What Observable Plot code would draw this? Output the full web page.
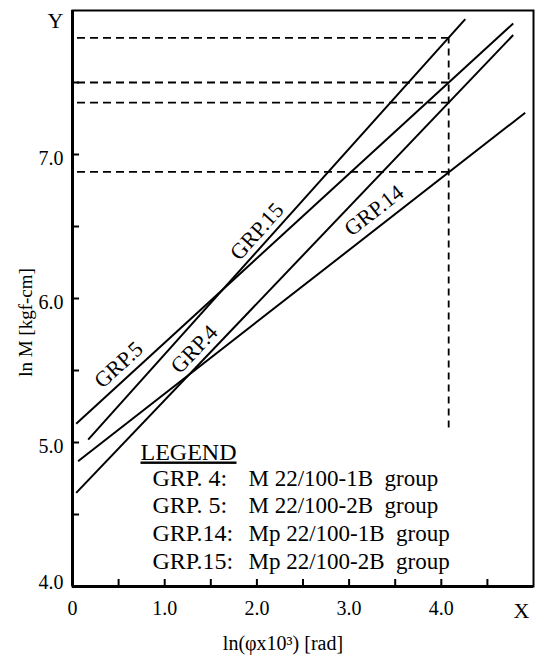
<!DOCTYPE html>
<html>
<head>
<meta charset="utf-8">
<script src="https://cdn.jsdelivr.net/npm/d3@7"></script>
<script src="https://cdn.jsdelivr.net/npm/@observablehq/plot@0.6"></script>
<style>
  html, body { margin: 0; padding: 0; background: #fff; }
  #chart svg { display: block; }
</style>
</head>
<body>
<div id="chart"></div>
<script>
// Fitted ln M – ln(φ×10³) lines, one per test group (start and end of each line)
const groups = ["GRP.5", "GRP.15", "GRP.4", "GRP.14"];
const xStart = [0.04, 0.17, 0.04, 0.06];
const xEnd   = [4.78, 4.26, 4.78, 4.91];
const yStart = [5.13, 5.02, 4.65, 4.87];
const yEnd   = [7.91, 7.94, 7.83, 7.29];

// Readings taken at ln(φ×10³) = 4.08
const readX = 4.08;
const readY = [7.81, 7.50, 7.36, 6.88];
const readFloor = 5.10;

// Axis ticks
const xTicks = [0, 1, 2, 3, 4];
const xTickLabels = ["0", "1.0", "2.0", "3.0", "4.0"];
const yTicks = [4, 5, 6, 7];
const yTickLabels = ["4.0", "5.0", "6.0", "7.0"];
const xMinor = [0.5, 1, 1.5, 2, 2.5, 3, 3.5, 4, 4.5];
const yMinor = [4.5, 5, 5.5, 6, 6.5, 7, 7.5];

// Legend
const legendTitle = "LEGEND";
const legendKeys = ["GRP. 4:", "GRP. 5:", "GRP.14:", "GRP.15:"];
const legendNames = ["M 22/100-1B  group", "M 22/100-2B  group", "Mp 22/100-1B  group", "Mp 22/100-2B  group"];

// Where along each line its name is written
const labelAt = [0.50, 2.00, 1.32, 3.27];

const W = 535, H = 656;
const mL = 72, mR = 2, mT = 10, mB = 70;
const pxPerX = (W - mL - mR) / 5;
const pxPerY = (H - mT - mB) / 4;

const serif = "'Liberation Serif', 'Times New Roman', serif";

const lineAt = (i, x) => yStart[i] + (yEnd[i] - yStart[i]) * (x - xStart[i]) / (xEnd[i] - xStart[i]);
const angleOf = (i) => -Math.atan(((yEnd[i] - yStart[i]) / (xEnd[i] - xStart[i])) * pxPerY / pxPerX) * 180 / Math.PI;

const idx = groups.map((_, i) => i);
const yLabelText = (d) => yTickLabels[yTicks.indexOf(d)];

const legendMarks = [
  Plot.text([legendTitle], {frameAnchor: "bottom-left", dx: 68, dy: -127, lineAnchor: "bottom", textAnchor: "start", fontSize: 24, fill: "black"}),
  ...legendKeys.map((k, i) =>
    Plot.text([k], {frameAnchor: "bottom-left", dx: 80, dy: -101 + 27.8 * i, lineAnchor: "bottom", textAnchor: "start", fontSize: 24, fill: "black"})),
  ...legendNames.map((n, i) =>
    Plot.text([n], {frameAnchor: "bottom-left", dx: 176, dy: -101 + 27.8 * i, lineAnchor: "bottom", textAnchor: "start", fontSize: 23, fill: "black"}))
];

const labelMarks = idx.map((i) =>
  Plot.text([groups[i]], {
    x: labelAt[i],
    y: lineAt(i, labelAt[i]),
    dy: -20,
    rotate: angleOf(i),
    textAnchor: "middle",
    lineAnchor: "middle",
    fontSize: 22,
    fill: "black"
  })
);

const chart = Plot.plot({
  width: W,
  height: H,
  marginLeft: mL,
  marginRight: mR,
  marginTop: mT,
  marginBottom: mB,
  style: {fontFamily: serif, fontSize: "20px", background: "white", color: "black"},
  x: {domain: [0, 5]},
  y: {domain: [4, 8]},
  marks: [
    // dashed reading guides
    Plot.ruleY(readY, {y: (d) => d, x1: 0, x2: readX, insetLeft: 5, stroke: "black", strokeWidth: 1.8, strokeDasharray: "8,5"}),
    Plot.ruleX([readX], {x: (d) => d, y1: readFloor, y2: d3.max(readY), stroke: "black", strokeWidth: 1.8, strokeDasharray: "7,5"}),
    // group lines
    Plot.link(idx, {
      x1: (i) => xStart[i], y1: (i) => yStart[i],
      x2: (i) => xEnd[i], y2: (i) => yEnd[i],
      stroke: "black", strokeWidth: 2
    }),
    ...labelMarks,
    // inward ticks
    Plot.axisX(xMinor, {tickSize: -7, strokeWidth: 2, tickFormat: () => "", label: null}),
    Plot.axisY(yMinor, {tickSize: -7, strokeWidth: 2, tickFormat: () => "", label: null}),
    // tick labels
    Plot.axisX(xTicks, {tickSize: 0, tickPadding: 14, tickFormat: (d) => xTickLabels[xTicks.indexOf(d)], fontSize: 20, label: null}),
    Plot.axisY(yTicks.slice(1), {tickSize: 0, tickPadding: 9, dy: 4, tickFormat: yLabelText, fontSize: 20, label: null}),
    Plot.axisY(yTicks.slice(0, 1), {tickSize: 0, tickPadding: 9, dy: -4, tickFormat: yLabelText, fontSize: 20, label: null}),
    // axis names
    Plot.text(["Y"], {frameAnchor: "top-left", dx: -9, dy: 10, textAnchor: "end", lineAnchor: "middle", fontSize: 22, fill: "black"}),
    Plot.text(["X"], {frameAnchor: "bottom-right", dx: -12, dy: 24, textAnchor: "middle", lineAnchor: "middle", fontSize: 22, fill: "black"}),
    Plot.text(["ln(φx10³) [rad]"], {frameAnchor: "bottom", dx: -20, dy: 57, textAnchor: "middle", lineAnchor: "middle", fontSize: 20, fill: "black"}),
    Plot.text(["ln M [kgf-cm]"], {frameAnchor: "left", dx: -47, dy: 24, rotate: -90, textAnchor: "middle", lineAnchor: "middle", fontSize: 19, fill: "black"}),
    ...legendMarks,
    // frame with heavier axes
    Plot.frame({stroke: "black", strokeWidth: 2}),
    Plot.ruleX([0], {stroke: "black", strokeWidth: 3}),
    Plot.ruleY([4], {stroke: "black", strokeWidth: 3})
  ]
});

d3.select(chart).selectAll("text")
  .filter(function () { return this.textContent === legendTitle; })
  .attr("text-decoration", "underline");

document.getElementById("chart").appendChild(chart);
</script>
</body>
</html>
